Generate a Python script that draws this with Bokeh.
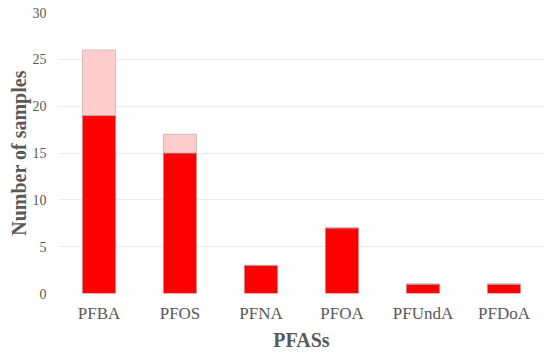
from bokeh.plotting import figure
from bokeh.models import Range1d, FixedTicker, ColumnDataSource
from bokeh.embed import file_html
from bokeh.resources import INLINE

categories = ["PFBA", "PFOS", "PFNA", "PFOA", "PFUndA", "PFDoA"]
lower_counts = [19, 15, 3, 7, 1, 1]
upper_counts = [7, 2, 0, 0, 0, 0]
y_ticks = [0, 5, 10, 15, 20, 25, 30]

totals = [a + b for a, b in zip(lower_counts, upper_counts)]
src = ColumnDataSource(dict(cat=categories, lower=lower_counts, total=totals))

p = figure(x_range=categories, y_range=Range1d(0, 30), width=550, height=357,
           output_backend="svg", toolbar_location=None,
           min_border_left=58, min_border_right=6, min_border_top=12, min_border_bottom=64)

p.vbar(x="cat", bottom=0, top="lower", width=0.41, source=src,
       fill_color="#FF0000", line_color="#b0a0a0", line_width=0.6)
p.vbar(x="cat", bottom="lower", top="total", width=0.41, source=src,
       fill_color="#FFCCCC", line_color="#b0a0a0", line_width=0.6)

font = "Liberation Serif"
p.outline_line_color = None
p.xgrid.grid_line_color = None
p.ygrid.grid_line_color = "#ececec"
p.ygrid.grid_line_width = 1
p.yaxis.ticker = FixedTicker(ticks=y_ticks)

for ax in (p.xaxis[0], p.yaxis[0]):
    ax.axis_line_color = None
    ax.major_tick_line_color = None
    ax.minor_tick_line_color = None
    ax.major_tick_out = 0
    ax.major_tick_in = 0
    ax.major_label_text_font = font
    ax.major_label_text_color = "#595959"
    ax.axis_label_text_font = font
    ax.axis_label_text_font_style = "bold"
    ax.axis_label_text_color = "#595959"
    ax.axis_label_text_font_size = "20px"

p.xaxis.axis_label = "PFASs"
p.yaxis.axis_label = "Number of samples"
p.xaxis.major_label_text_font_size = "17px"
p.yaxis.major_label_text_font_size = "14px"
p.xaxis.major_label_standoff = 10
p.yaxis.major_label_standoff = 12
p.xaxis.axis_label_standoff = 3
p.yaxis.axis_label_standoff = 0
p.x_range.range_padding = 0

open("out.html", "w").write(file_html(p, INLINE))
